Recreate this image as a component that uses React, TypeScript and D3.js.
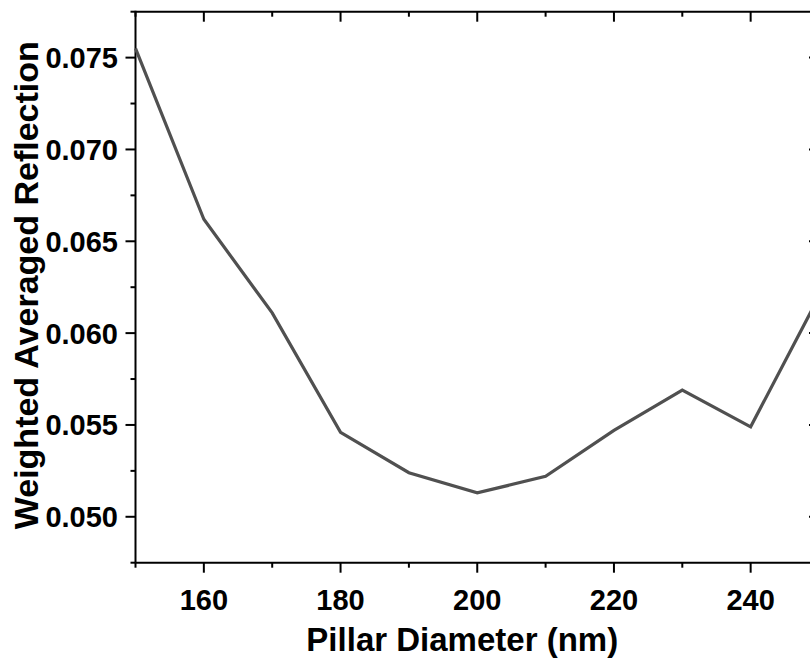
import React, { useEffect, useRef } from 'react';
import * as d3 from 'd3';

// Pillar diameter (nm) and weighted averaged reflection
const diameters = [150, 160, 170, 180, 190, 200, 210, 220, 230, 240, 250];
const reflection = [0.0755, 0.0662, 0.0611, 0.0546, 0.0524, 0.0513, 0.0522, 0.0547, 0.0569, 0.0549, 0.062];

const xMajor = [160, 180, 200, 220, 240];
const xMinor = [150, 170, 190, 210, 230, 250];
const yMajor = [0.05, 0.055, 0.06, 0.065, 0.07, 0.075];
const yMinor = [0.0475, 0.0525, 0.0575, 0.0625, 0.0675, 0.0725, 0.0775];

const App: React.FC = () => {
  const svgRef = useRef<SVGSVGElement>(null);

  useEffect(() => {
    if (!svgRef.current) return;
    const svg = d3.select(svgRef.current);
    svg.selectAll('*').remove();

    const width = 810;
    const height = 661;
    const margin = { top: 11.7, left: 135.5, bottom: 562.7, right: 819 };
    const font = '"Liberation Sans", Arial, sans-serif';

    const x = d3.scaleLinear().domain([150, 250]).range([margin.left, margin.right]);
    const y = d3.scaleLinear().domain([0.0475, 0.0775]).range([margin.bottom, margin.top]);

    svg.attr('width', width).attr('height', height);

    // frame
    const frame = svg.append('g').attr('stroke', '#000').attr('stroke-width', 2);
    frame.append('line').attr('x1', margin.left).attr('x2', margin.right)
      .attr('y1', margin.bottom).attr('y2', margin.bottom);
    frame.append('line').attr('x1', margin.left).attr('x2', margin.right)
      .attr('y1', margin.top).attr('y2', margin.top);
    frame.append('line').attr('x1', margin.left).attr('x2', margin.left)
      .attr('y1', margin.top - 1).attr('y2', margin.bottom);
    frame.append('line').attr('x1', margin.right).attr('x2', margin.right)
      .attr('y1', margin.top).attr('y2', margin.bottom);

    const majorLen = 10;
    const minorLen = 5;

    // x ticks: bottom outward, top inward
    const xTicks = [
      ...xMajor.map(v => ({ v, len: majorLen })),
      ...xMinor.map(v => ({ v, len: minorLen })),
    ];
    frame.selectAll('line.xb').data(xTicks).enter().append('line')
      .attr('class', 'xb')
      .attr('x1', d => x(d.v)).attr('x2', d => x(d.v))
      .attr('y1', margin.bottom).attr('y2', d => margin.bottom + d.len);
    frame.selectAll('line.xt').data(xTicks).enter().append('line')
      .attr('class', 'xt')
      .attr('x1', d => x(d.v)).attr('x2', d => x(d.v))
      .attr('y1', margin.top).attr('y2', d => margin.top + d.len);

    // y ticks: left outward, right inward
    const yTicks = [
      ...yMajor.map(v => ({ v, len: majorLen })),
      ...yMinor.map(v => ({ v, len: minorLen })),
    ];
    frame.selectAll('line.yl').data(yTicks).enter().append('line')
      .attr('class', 'yl')
      .attr('x1', margin.left).attr('x2', d => margin.left - d.len)
      .attr('y1', d => y(d.v)).attr('y2', d => y(d.v));
    frame.selectAll('line.yr').data(yTicks).enter().append('line')
      .attr('class', 'yr')
      .attr('x1', margin.right).attr('x2', d => margin.right - d.len)
      .attr('y1', d => y(d.v)).attr('y2', d => y(d.v));

    // tick labels
    svg.selectAll('text.xl').data(xMajor).enter().append('text')
      .attr('class', 'xl')
      .attr('x', d => x(d))
      .attr('y', 610)
      .attr('text-anchor', 'middle')
      .style('font-family', font)
      .style('font-weight', 'bold')
      .style('font-size', '29px')
      .text(d => d3.format('d')(d));

    svg.selectAll('text.yl').data(yMajor).enter().append('text')
      .attr('class', 'yl')
      .attr('x', 118)
      .attr('y', d => y(d))
      .attr('dy', '0.36em')
      .attr('text-anchor', 'end')
      .style('font-family', font)
      .style('font-weight', 'bold')
      .style('font-size', '29px')
      .text(d => d3.format('.3f')(d));

    // axis titles
    svg.append('text')
      .attr('x', (margin.left + 819) / 2 - 15)
      .attr('y', 651)
      .attr('text-anchor', 'middle')
      .style('font-family', font)
      .style('font-weight', 'bold')
      .style('font-size', '33px')
      .text('Pillar Diameter (nm)');

    svg.append('text')
      .attr('transform', `translate(38,${(margin.top + margin.bottom) / 2 - 2}) rotate(-90)`)
      .attr('text-anchor', 'middle')
      .style('font-family', font)
      .style('font-weight', 'bold')
      .style('font-size', '34px')
      .text('Weighted Averaged Reflection');

    // data line
    const line = d3.line<number>()
      .x((_, i) => x(diameters[i]))
      .y(d => y(d));

    svg.append('path')
      .datum(reflection)
      .attr('d', line)
      .attr('fill', 'none')
      .attr('stroke', '#505050')
      .attr('stroke-width', 3.2)
      .attr('stroke-linejoin', 'miter');
  }, []);

  return (
    <svg
      ref={svgRef}
      style={{ position: 'absolute', left: 0, top: 0, display: 'block', background: '#fff' }}
    />
  );
};

export default App;
